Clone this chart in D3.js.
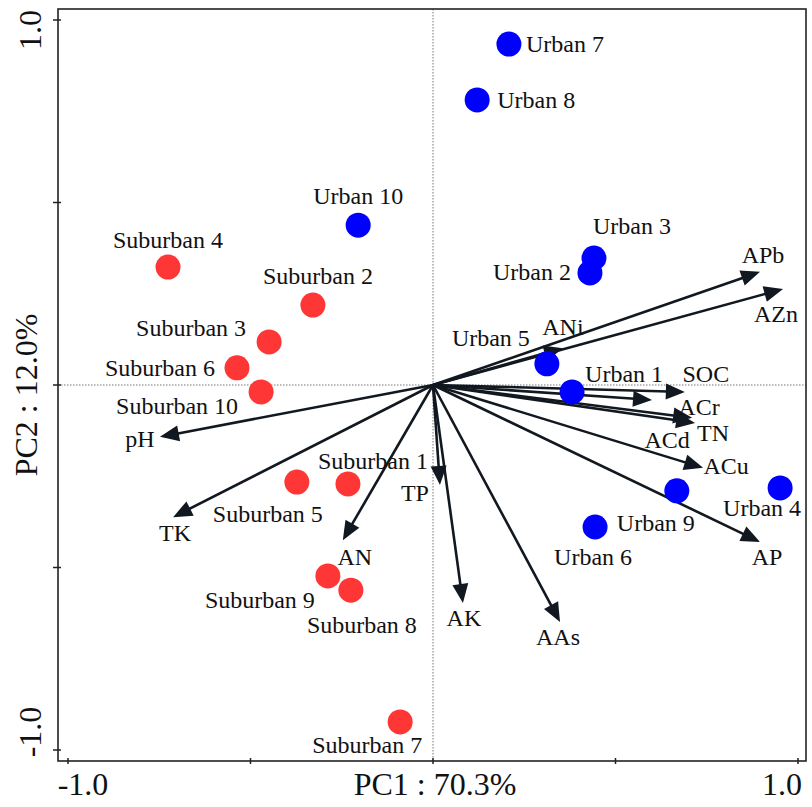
<!DOCTYPE html>
<html><head><meta charset="utf-8">
<script src="https://cdn.jsdelivr.net/npm/d3@7"></script>
<style>html,body{margin:0;padding:0;background:#fff;}</style>
</head><body>
<svg id="c" width="812" height="807"></svg>
<script>
// ---- data ----
const sampleNames = ["Urban 1","Urban 2","Urban 3","Urban 4","Urban 5","Urban 6","Urban 7","Urban 8","Urban 9","Urban 10",
  "Suburban 1","Suburban 2","Suburban 3","Suburban 4","Suburban 5","Suburban 6","Suburban 7","Suburban 8","Suburban 9","Suburban 10"];
const sampleGroup = ["Urban","Urban","Urban","Urban","Urban","Urban","Urban","Urban","Urban","Urban",
  "Suburban","Suburban","Suburban","Suburban","Suburban","Suburban","Suburban","Suburban","Suburban","Suburban"];
const samplePC1 = [0.381,0.430,0.441,0.951,0.312,0.444,0.208,0.121,0.668,-0.205,
  -0.233,-0.329,-0.449,-0.726,-0.373,-0.537,-0.090,-0.225,-0.288,-0.471];
const samplePC2 = [-0.019,0.307,0.348,-0.282,0.058,-0.389,0.934,0.781,-0.290,0.438,
  -0.271,0.219,0.118,0.323,-0.266,0.047,-0.923,-0.562,-0.523,-0.019];

const varNames = ["APb","AZn","ANi","SOC","ACr","TN","ACd","ACu","AP","AAs","AK","TP","AN","TK","pH"];
const varPC1 = [0.896,0.959,0.356,0.690,0.600,0.718,0.710,0.740,0.896,0.348,0.082,0.019,-0.247,-0.712,-0.748];
const varPC2 = [0.310,0.263,0.101,-0.019,-0.041,-0.104,-0.090,-0.227,-0.430,-0.649,-0.597,-0.274,-0.425,-0.362,-0.142];

const tickValues = [-1,-0.5,0,0.5,1];
const tickLabels = ["-1.0","","","","1.0"];
const xTitle = "PC1 : 70.3%";
const yTitle = "PC2 : 12.0%";

// ---- layout (label offsets in px, relative to mark) ----
const sampleLabelOffset = [[52,-18],[-58,-1],[38,-32],[-18,20],[-56,-26],[-2,30],[56,0],[59,0],[-21,32],[0,-29],
  [25,-23],[5,-29],[-78,-14],[0,-27],[-29,32],[-77,0],[-33,23],[11,35],[-68,24],[-84,14]];
const varLabelOffset = [[3,-17],[-7,25],[0,-21],[21,-18],[47,7],[18,10],[-25,22],[23,-2],[7,15],[-2,15],[1,15],[-25,8],[12,17],[2,16],[-20,2]];

const groupColor = {Urban:"#0000FF", Suburban:"#FF3636"};
const arrowColor = "#111820";
const font = "'Liberation Serif','Times New Roman',serif";

const svg = d3.select("#c");
const x = d3.scaleLinear().domain([-1,1]).range([68,798]);
const y = d3.scaleLinear().domain([-1,1]).range([750,20]);
const box = {l:58,t:9,r:806,b:761};

// dotted zero lines
svg.append("line").attr("x1",x(0)).attr("x2",x(0)).attr("y1",box.t).attr("y2",box.b)
  .attr("stroke","#777").attr("stroke-width",1).attr("stroke-dasharray","1.5,1.5");
svg.append("line").attr("x1",box.l).attr("x2",box.r).attr("y1",y(0)).attr("y2",y(0))
  .attr("stroke","#777").attr("stroke-width",1).attr("stroke-dasharray","1.5,1.5");

// box
svg.append("rect").attr("x",box.l).attr("y",box.t).attr("width",box.r-box.l).attr("height",box.b-box.t)
  .attr("fill","none").attr("stroke","#222").attr("stroke-width",1.6);

// ticks
tickValues.forEach(v=>{
  svg.append("line").attr("x1",x(v)).attr("x2",x(v)).attr("y1",box.b-3).attr("y2",box.b+3).attr("stroke","#222").attr("stroke-width",1.5);
  svg.append("line").attr("y1",y(v)).attr("y2",y(v)).attr("x1",box.l-5).attr("x2",box.l+3).attr("stroke","#222").attr("stroke-width",1.5);
});
// tick labels
const axFont = 32;
tickValues.forEach((v,i)=>{
  if(!tickLabels[i]) return;
  const dx = v<0 ? 15 : -16;
  svg.append("text").attr("x",x(v)+dx).attr("y",795).attr("text-anchor","middle")
    .attr("font-family",font).attr("font-size",axFont).attr("fill","#111").text(tickLabels[i]);
  const dy = v<0 ? -18 : 10;
  svg.append("text").attr("transform",`translate(41,${y(v)+dy}) rotate(-90)`).attr("text-anchor","middle")
    .attr("font-family",font).attr("font-size",axFont).attr("fill","#111").text(tickLabels[i]);
});
svg.append("text").attr("x",x(0)+2).attr("y",795).attr("text-anchor","middle")
  .attr("font-family",font).attr("font-size",axFont).attr("fill","#111").text(xTitle);
svg.append("text").attr("transform",`translate(37,${y(0)+10}) rotate(-90)`).attr("text-anchor","middle")
  .attr("font-family",font).attr("font-size",axFont).attr("fill","#111").text(yTitle);

// arrows
const ox = x(0), oy = y(0);
const headLen = 19, headHalf = 8;
varNames.forEach((n,i)=>{
  const tx = x(varPC1[i]), ty = y(varPC2[i]);
  const ang = Math.atan2(ty-oy, tx-ox);
  const bx = tx - headLen*Math.cos(ang), by = ty - headLen*Math.sin(ang);
  svg.append("line").attr("x1",ox).attr("y1",oy).attr("x2",bx+2*Math.cos(ang)).attr("y2",by+2*Math.sin(ang))
    .attr("stroke",arrowColor).attr("stroke-width",2.6);
  const px = -Math.sin(ang), py = Math.cos(ang);
  svg.append("path").attr("d",`M${tx},${ty}L${bx+headHalf*px},${by+headHalf*py}L${bx-headHalf*px},${by-headHalf*py}Z`)
    .attr("fill",arrowColor);
});

// points
const lblFont = 24;
svg.selectAll("circle.pt").data(sampleNames).enter().append("circle").attr("class","pt")
  .attr("cx",(d,i)=>x(samplePC1[i])).attr("cy",(d,i)=>y(samplePC2[i])).attr("r",12.5)
  .attr("fill",(d,i)=>groupColor[sampleGroup[i]]);

// sample labels
svg.selectAll("text.sl").data(sampleNames).enter().append("text").attr("class","sl")
  .attr("x",(d,i)=>x(samplePC1[i])+sampleLabelOffset[i][0])
  .attr("y",(d,i)=>y(samplePC2[i])+sampleLabelOffset[i][1]+8)
  .attr("text-anchor","middle").attr("font-family",font).attr("font-size",lblFont).attr("fill","#111")
  .text(d=>d);

// variable labels
svg.selectAll("text.vl").data(varNames).enter().append("text").attr("class","vl")
  .attr("x",(d,i)=>x(varPC1[i])+varLabelOffset[i][0])
  .attr("y",(d,i)=>y(varPC2[i])+varLabelOffset[i][1]+8)
  .attr("text-anchor","middle").attr("font-family",font).attr("font-size",lblFont).attr("fill","#111")
  .text(d=>d);
</script>
</body></html>
